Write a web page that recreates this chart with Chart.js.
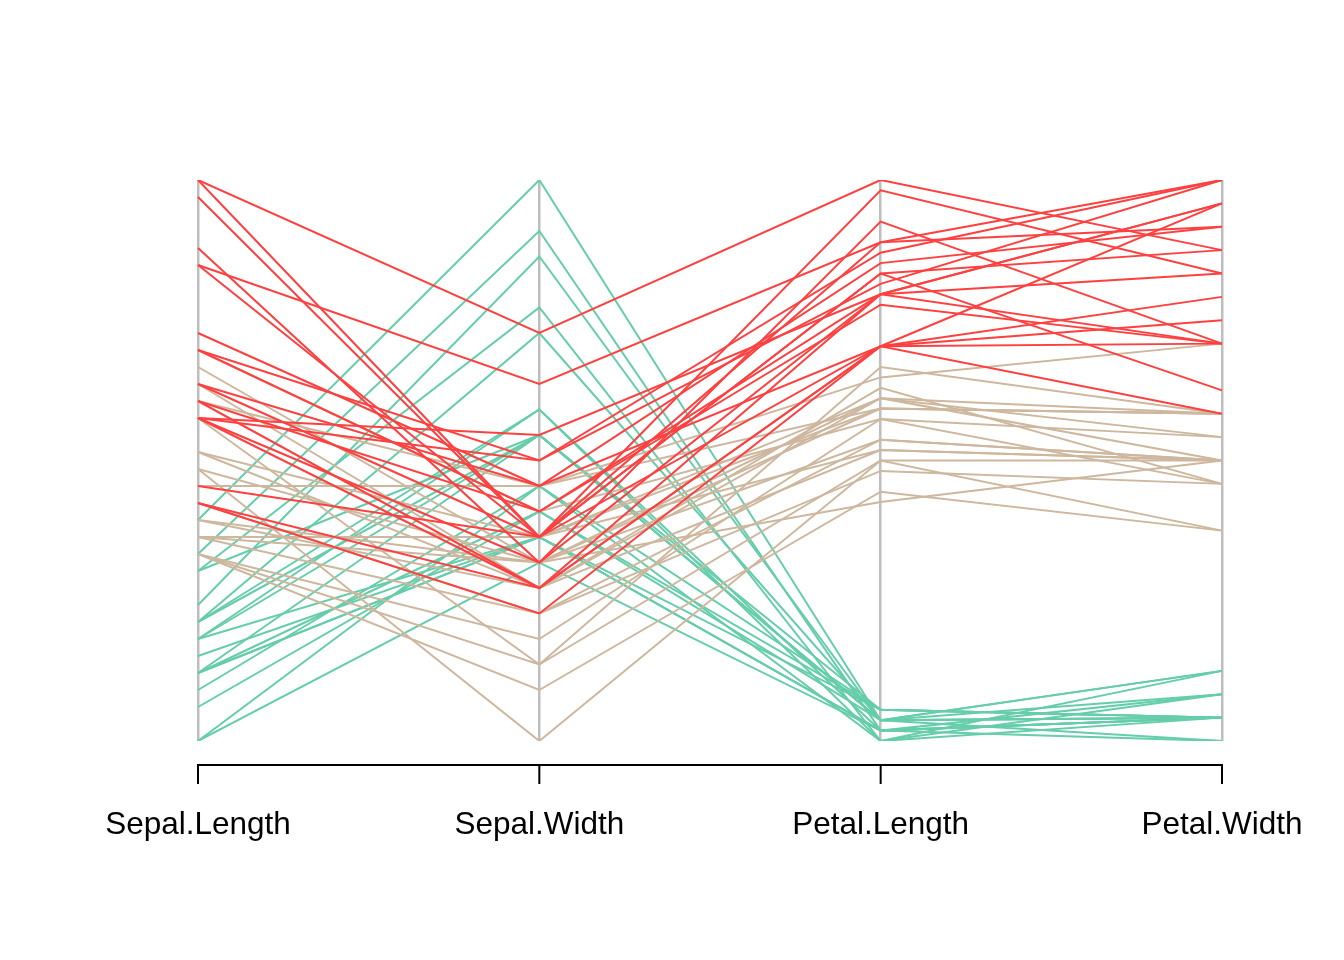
<!DOCTYPE html>
<html>
<head>
<meta charset="utf-8">
<script src="https://cdn.jsdelivr.net/npm/chart.js@4.4.1/dist/chart.umd.min.js"></script>
<style>
  html, body { margin: 0; padding: 0; background: #fff; }
  #wrap { width: 1344px; height: 960px; }
</style>
</head>
<body>
<div id="wrap"><canvas id="parcoord" width="1344" height="960"></canvas></div>
<script>
// variables shown on the axes
var variables = ['Sepal.Length', 'Sepal.Width', 'Petal.Length', 'Petal.Width'];

// one entry per flower: setosa (20), versicolor (20), virginica (20)
var species = [].concat(
    Array(20).fill('setosa'), Array(20).fill('versicolor'), Array(20).fill('virginica'));

var sepalLength = [
    5.7, 5.5, 5.2, 5.4, 5.1, 5.0, 5.1, 5.1, 4.8, 5.0, 4.7, 4.4, 4.8, 4.6, 4.9, 4.8, 4.4, 5.0, 5.4, 4.8,
    6.7, 6.6, 6.5, 6.4, 6.1, 6.0, 6.0, 5.9, 5.7, 5.7, 5.6, 5.6, 5.6, 5.5, 5.5, 6.1, 5.6, 6.3, 5.5, 5.8,
    7.7, 7.7, 7.6, 7.3, 7.2, 7.2, 6.8, 6.7, 6.7, 6.5, 6.5, 6.4, 6.4, 6.3, 6.3, 6.3, 5.9, 5.8, 5.8, 6.3
];
var sepalWidth = [
    4.4, 4.2, 4.1, 3.9, 3.8, 3.5, 3.5, 3.4, 3.4, 3.4, 3.2, 3.2, 3.1, 3.1, 3.0, 3.0, 2.9, 3.0, 3.4, 3.0,
    3.1, 2.9, 2.8, 3.2, 2.8, 2.2, 2.9, 3.2, 2.8, 2.9, 2.9, 3.0, 2.7, 2.4, 2.5, 3.0, 3.0, 2.5, 2.6, 2.7,
    3.8, 3.0, 3.0, 2.9, 3.6, 3.0, 3.2, 3.3, 3.1, 3.0, 3.2, 2.8, 3.1, 3.3, 2.9, 2.8, 3.0, 2.7, 2.8, 3.4
];
var petalLength = [
    1.5, 1.4, 1.5, 1.3, 1.5, 1.3, 1.4, 1.5, 1.6, 1.5, 1.6, 1.3, 1.6, 1.5, 1.4, 1.4, 1.4, 1.6, 1.5, 1.4,
    4.4, 4.6, 4.6, 4.5, 4.7, 4.0, 4.5, 4.8, 4.1, 4.2, 3.6, 4.5, 4.2, 3.7, 4.0, 4.6, 4.1, 4.9, 4.4, 3.9,
    6.7, 6.1, 6.6, 6.3, 6.1, 5.8, 5.9, 5.7, 5.6, 5.8, 5.1, 5.6, 5.5, 6.0, 5.6, 5.1, 5.1, 5.1, 5.1, 5.6
];
var petalWidth = [
    0.4, 0.2, 0.1, 0.4, 0.3, 0.3, 0.2, 0.2, 0.2, 0.2, 0.2, 0.2, 0.2, 0.2, 0.2, 0.1, 0.2, 0.2, 0.4, 0.3,
    1.4, 1.3, 1.5, 1.5, 1.2, 1.0, 1.5, 1.8, 1.3, 1.3, 1.3, 1.5, 1.3, 1.0, 1.3, 1.4, 1.3, 1.5, 1.2, 1.2,
    2.2, 2.3, 2.1, 1.8, 2.5, 1.6, 2.3, 2.5, 2.4, 2.2, 2.0, 2.1, 1.8, 2.5, 1.8, 1.5, 1.8, 1.9, 2.4, 2.4
];

var speciesColors = {
    setosa: '#66CDAA',
    versicolor: '#CDB79E',
    virginica: '#FF4040'
};

// rescale every column to 0..1 like parcoord does
function rescale(values) {
    var lo = Math.min.apply(null, values);
    var hi = Math.max.apply(null, values);
    return values.map(function(v) { return (v - lo) / (hi - lo); });
}
var columns = [sepalLength, sepalWidth, petalLength, petalWidth].map(rescale);

var datasets = species.map(function(sp, i) {
    return {
        label: sp + ' ' + (i + 1),
        data: columns.map(function(col) { return col[i]; }),
        borderColor: speciesColors[sp],
        borderWidth: 2,
        pointRadius: 0,
        tension: 0,
        fill: false
    };
});
// first dataset is painted last, so put virginica on top
datasets.reverse();

// black axis line below the plot, with tick marks at each variable
var axisLine = {
    id: 'axisLine',
    afterDraw: function(chart) {
        var ctx = chart.ctx;
        var xs = chart.scales.x;
        var y0 = chart.chartArea.bottom + 24;
        var first = xs.getPixelForTick(0);
        var last = xs.getPixelForTick(variables.length - 1);
        ctx.save();
        ctx.strokeStyle = '#000';
        ctx.lineWidth = 2;
        ctx.beginPath();
        ctx.moveTo(first - 1, y0);
        ctx.lineTo(last + 1, y0);
        for (var i = 0; i < variables.length; i++) {
            var px = xs.getPixelForTick(i);
            ctx.moveTo(px, y0);
            ctx.lineTo(px, y0 + 19);
        }
        ctx.stroke();
        ctx.restore();
    }
};

var ctx = document.getElementById('parcoord').getContext('2d');
var chart = new Chart(ctx, {
    type: 'line',
    data: {
        labels: variables,
        datasets: datasets
    },
    options: {
        responsive: false,
        animation: false,
        layout: {
            padding: { left: 198, right: 122, top: 180, bottom: 0 }
        },
        scales: {
            x: {
                type: 'category',
                offset: false,
                grid: { color: '#BEBEBE', lineWidth: 2.5, drawTicks: false },
                border: { display: false },
                ticks: {
                    color: '#000',
                    padding: 65,
                    maxRotation: 0,
                    autoSkip: false,
                    font: { family: "'Liberation Sans', Arial, sans-serif", size: 31.5 }
                },
                afterFit: function(scale) {
                    // labels may hang past the ends; keep the layout padding in charge
                    scale.height = 219;
                    scale.paddingLeft = 0;
                    scale.paddingRight = 0;
                }
            },
            y: {
                display: false,
                min: 0,
                max: 1
            }
        },
        plugins: {
            legend: { display: false },
            tooltip: { enabled: false }
        }
    },
    plugins: [axisLine]
});
</script>
</body>
</html>
